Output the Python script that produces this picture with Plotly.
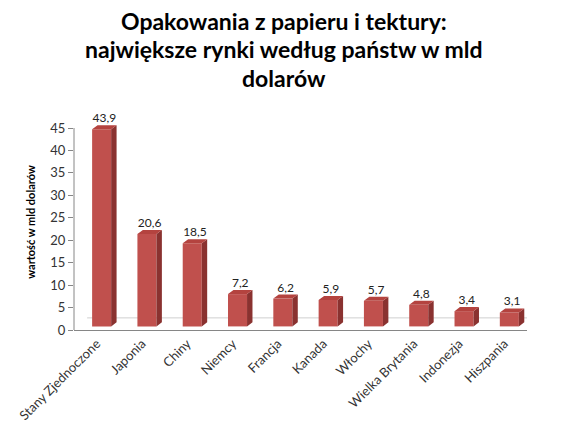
import plotly.graph_objects as go

# dane z wykresu
kraje = ["Stany Zjednoczone", "Japonia", "Chiny", "Niemcy", "Francja",
         "Kanada", "Włochy", "Wielka Brytania", "Indonezja", "Hiszpania"]
wartosci = [43.9, 20.6, 18.5, 7.2, 6.2, 5.9, 5.7, 4.8, 3.4, 3.1]
etykiety = ["43,9", "20,6", "18,5", "7,2", "6,2", "5,9", "5,7", "4,8", "3,4", "3,1"]
y_ticks = list(range(0, 50, 5))
tytul = ["Opakowania z papieru i tektury:",
         "największe rynki według państw w mld",
         "dolarów"]

FONT = "Lato, Open Sans, sans-serif"
front_col = "#C0504D"
side_col = "#8A3230"
top_col = "#B4433F"
axis_col = "#868686"

# pseudo-3D: przesunięcie słupka, szerokość, głębokość
shift, half_w = 0.11, 0.21
dx, dy = 0.12, 0.9
base = 0.8
floor = 2.7

xs = [i + shift for i in range(len(kraje))]

fig = go.Figure()

fig.add_trace(go.Bar(
    x=xs, y=wartosci, base=base, width=2 * half_w,
    marker=dict(color=front_col, line=dict(width=0)),
    hoverinfo="skip", showlegend=False,
))

# boki i wierzchy słupków
side_x, side_y, top_x, top_y = [], [], [], []
for x, v in zip(xs, wartosci):
    l, r, t = x - half_w, x + half_w, v + base
    side_x += [r, r + dx, r + dx, r, r, None]
    side_y += [base, base + dy, t + dy, t, base, None]
    top_x += [l, l + dx, r + dx, r, l, None]
    top_y += [t, t + dy, t + dy, t, t, None]

fig.add_trace(go.Scatter(x=side_x, y=side_y, mode="lines", fill="toself",
                         fillcolor=side_col, line=dict(width=0),
                         hoverinfo="skip", showlegend=False))
fig.add_trace(go.Scatter(x=top_x, y=top_y, mode="lines", fill="toself",
                         fillcolor=top_col, line=dict(width=0),
                         hoverinfo="skip", showlegend=False))

# etykiety wartości
fig.add_trace(go.Scatter(
    x=[x + dx / 2 for x in xs], y=[v + base + dy for v in wartosci],
    mode="text", text=etykiety, textposition="top center", cliponaxis=False,
    textfont=dict(family=FONT, size=12, color="#222"),
    hoverinfo="skip", showlegend=False,
))

# oś Y tylko do 45
fig.add_shape(type="line", xref="paper", x0=0, x1=0, y0=0, y1=45,
              line=dict(color=axis_col, width=1))
# podłoga (tylna linia i skos po prawej)
fig.add_shape(type="line", x0=-0.5 + 0.29, x1=9.5 + 0.29, y0=floor, y1=floor,
              line=dict(color="#CFCFCF", width=1), layer="below")
fig.add_shape(type="line", x0=9.5, x1=9.5 + 0.29, y0=0, y1=floor,
              line=dict(color="#9A9A9A", width=1))

# tytuł - trzy wiersze
for linia, yy in zip(tytul, [1.4306, 1.3009, 1.1667]):
    fig.add_annotation(
        text=f"<b>{linia}</b>", xref="paper", yref="paper",
        x=0.4636, y=yy, xanchor="center", yanchor="middle", showarrow=False,
        font=dict(family=FONT, size=23, color="black"),
    )

fig.update_layout(
    width=557, height=428,
    margin=dict(l=66, r=38, t=106, b=106),
    paper_bgcolor="white", plot_bgcolor="white",
    xaxis=dict(
        range=[-0.5, 9.5], tickvals=list(range(len(kraje))), ticktext=kraje,
        tickangle=-45, ticks="", showgrid=False, zeroline=False,
        showline=True, linecolor=axis_col, linewidth=1, automargin=False,
        tickfont=dict(family=FONT, size=13, color="#333"),
    ),
    xaxis2=dict(
        overlaying="x", range=[-0.5, 9.5], tickvals=[i - 0.5 for i in range(len(kraje) + 1)],
        showticklabels=False, ticks="outside", ticklen=5, tickcolor=axis_col,
        showgrid=False, zeroline=False, side="bottom",
    ),
    yaxis=dict(
        range=[0, 48.12], tickvals=y_ticks, ticks="outside", ticklen=5,
        tickcolor=axis_col, showgrid=False, zeroline=False,
        showline=False, automargin=False,
        tickfont=dict(family=FONT, size=13, color="#333"),
        title=dict(text="<b>wartość w mld dolarów</b>", standoff=12,
                   font=dict(family=FONT, size=11, color="black")),
    ),
)

fig.write_html("out.html")
